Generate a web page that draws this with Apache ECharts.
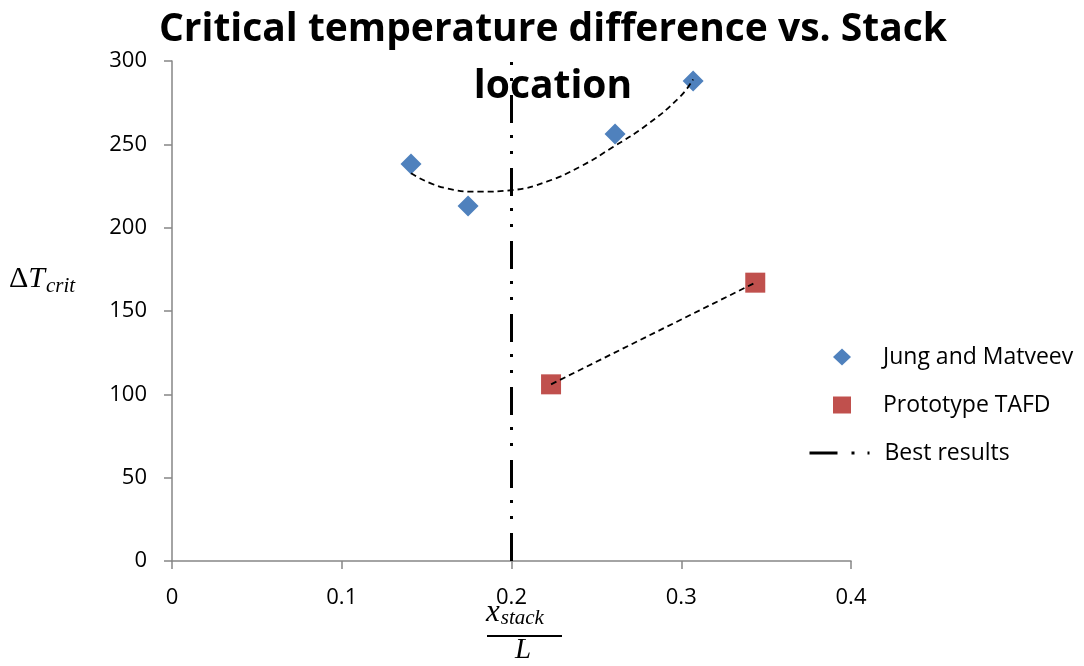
<!DOCTYPE html>
<html>
<head>
<meta charset="utf-8">
<script src="https://cdn.jsdelivr.net/npm/echarts@6/dist/echarts.min.js"></script>
<style>
  html, body { margin: 0; padding: 0; background: #ffffff; }
  #main { width: 1084px; height: 666px; }
</style>
</head>
<body>
<div id="main"></div>
<script>
// measured points
var jungPoints = [[0.1408, 238.2], [0.1744, 213.0], [0.261, 256.2], [0.307, 288.0]];
var tafdPoints = [[0.2233, 106.0], [0.3436, 167.0]];
var bestLine = [[0.2, 0], [0.2, 300]];

// trend lines
var jungTrend = [
  [0.1408, 232.6], [0.1618, 223.6], [0.1814, 221.6], [0.2009, 222.6],
  [0.2207, 227.6], [0.2404, 236.6], [0.2598, 248.4], [0.2796, 261.6],
  [0.2993, 278.6], [0.307, 289.0]
];
var tafdTrend = [[0.2233, 106.0], [0.3436, 167.0]];

var chartDom = document.getElementById('main');
var myChart = echarts.init(chartDom);
var option;

var baseFont = 'Open Sans';
var mathFont = 'Liberation Serif';
var axisGray = '#868686';

option = {
  animation: false,
  title: {
    text: 'Critical temperature difference vs. Stack\nlocation',
    left: 548,
    top: -4,
    textAlign: 'center',
    textStyle: {
      fontFamily: baseFont,
      fontWeight: 'bold',
      fontSize: 39,
      lineHeight: 57,
      color: '#000000'
    }
  },
  grid: {
    left: 172,
    right: 233,
    top: 61,
    bottom: 105
  },
  legend: [
    {
      orient: 'vertical',
      left: 833,
      top: 345,
      padding: 0,
      itemWidth: 18,
      itemHeight: 17,
      itemGap: 24,
      data: ['Jung and Matveev', 'Prototype TAFD'],
      textStyle: { fontFamily: baseFont, fontSize: 23, lineHeight: 24, color: '#000000', padding: [0, 0, 0, 27] }
    },
    {
      orient: 'vertical',
      left: 808,
      top: 441,
      padding: 0,
      itemWidth: 60,
      itemHeight: 18,
      data: ['Best results'],
      itemStyle: { opacity: 0 },
      lineStyle: { width: 3, color: '#000000' },
      textStyle: { fontFamily: baseFont, fontSize: 23, lineHeight: 24, color: '#000000', padding: [0, 0, 0, 10] }
    }
  ],
  xAxis: {
    type: 'value',
    min: 0,
    max: 0.4,
    interval: 0.1,
    axisLine: { show: true, lineStyle: { color: axisGray, width: 1.5 } },
    axisTick: { show: true, length: 8, lineStyle: { color: axisGray, width: 1.5 } },
    axisLabel: {
      margin: 26,
      fontFamily: baseFont,
      fontSize: 22,
      color: '#000000',
      formatter: function (v) { return String(Math.round(v * 10) / 10); }
    },
    splitLine: { show: false }
  },
  yAxis: {
    type: 'value',
    min: 0,
    max: 300,
    interval: 50,
    axisLine: { show: true, lineStyle: { color: axisGray, width: 1.5 } },
    axisTick: { show: true, length: 8, lineStyle: { color: axisGray, width: 1.5 } },
    axisLabel: {
      margin: 25,
      fontFamily: baseFont,
      fontSize: 22,
      color: '#000000'
    },
    splitLine: { show: false }
  },
  graphic: [
    {
      type: 'text',
      left: 9,
      top: 264,
      style: {
        text: '{d|Δ}{t|T}{s|crit}',
        rich: {
          d: { fontFamily: mathFont, fontSize: 30, fill: '#000000' },
          t: { fontFamily: mathFont, fontStyle: 'italic', fontSize: 30, fill: '#000000' },
          s: { fontFamily: mathFont, fontStyle: 'italic', fontSize: 21, fill: '#000000', padding: [14, 0, 0, 1] }
        }
      }
    },
    {
      type: 'text',
      left: 486,
      top: 597,
      style: {
        text: '{x|x}{s|stack}',
        rich: {
          x: { fontFamily: mathFont, fontStyle: 'italic', fontSize: 31, fill: '#000000' },
          s: { fontFamily: mathFont, fontStyle: 'italic', fontSize: 21, fill: '#000000', padding: [12, 0, 0, 1] }
        }
      }
    },
    {
      type: 'rect',
      left: 487,
      top: 635,
      shape: { width: 75, height: 2 },
      style: { fill: '#000000' }
    },
    {
      type: 'text',
      left: 515,
      top: 636,
      style: {
        text: 'L',
        fontFamily: mathFont,
        fontStyle: 'italic',
        fontSize: 29,
        fill: '#000000'
      }
    }
  ],
  series: [
    {
      name: 'Jung trend',
      type: 'line',
      smooth: true,
      symbol: 'none',
      silent: true,
      lineStyle: { color: '#000000', width: 1.8, type: [6, 4] },
      data: jungTrend,
      z: 3
    },
    {
      name: 'TAFD trend',
      type: 'line',
      symbol: 'none',
      silent: true,
      lineStyle: { color: '#000000', width: 1.8, type: [6, 4] },
      data: tafdTrend,
      z: 3
    },
    {
      name: 'Best results',
      type: 'line',
      symbol: 'none',
      lineStyle: { color: '#000000', width: 3, type: [28, 14, 3, 13, 3, 12] },
      itemStyle: { color: '#000000' },
      data: bestLine,
      z: 4
    },
    {
      name: 'Jung and Matveev',
      type: 'scatter',
      symbol: 'diamond',
      symbolSize: 21,
      itemStyle: { color: '#4F81BD', opacity: 1 },
      data: jungPoints,
      z: 2
    },
    {
      name: 'Prototype TAFD',
      type: 'scatter',
      symbol: 'rect',
      symbolSize: 20,
      itemStyle: { color: '#C0504D', opacity: 1 },
      data: tafdPoints,
      z: 2
    }
  ]
};

option && myChart.setOption(option);
</script>
</body>
</html>
